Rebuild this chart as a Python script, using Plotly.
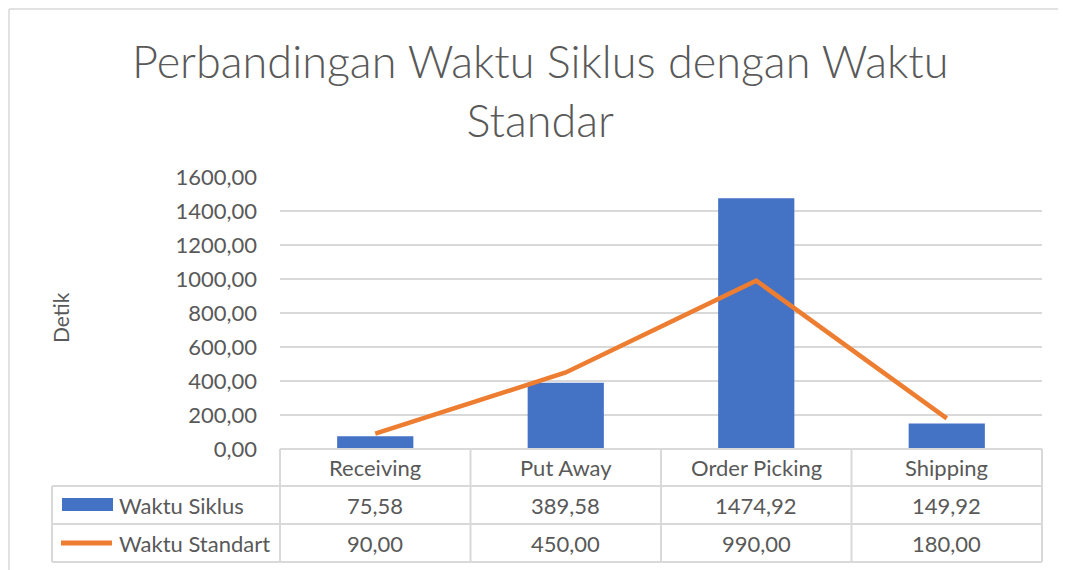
import plotly.graph_objects as go

categories = ["Receiving", "Put Away", "Order Picking", "Shipping"]
waktu_siklus = [75.58, 389.58, 1474.92, 149.92]
waktu_standart = [90.00, 450.00, 990.00, 180.00]
series_names = ["Waktu Siklus", "Waktu Standart"]
y_ticks = [0, 200, 400, 600, 800, 1000, 1200, 1400, 1600]
title_text = "Perbandingan Waktu Siklus dengan Waktu<br>Standar"
y_title = "Detik"

BLUE = "#4472C4"
ORANGE = "#ED7D31"
TXT = "#595959"
GRID = "#D9D9D9"
FONT = "Lato"

W, H = 1066, 570
OFF = 8  # page body margin offset
# desired plot area in page pixels
PL, PR, PT, PB = 280, 1042, 177, 449
L, T = PL - OFF, PT - OFF
R, B = W - (PR - OFF), H - (PB - OFF)
PW, PH = PR - PL, PB - PT


def px(x):
    return (x - PL) / PW


def py(y):
    return (PB - y) / PH


def fmt(v):
    return f"{v:.2f}".replace(".", ",")


fig = go.Figure()
fig.add_trace(go.Bar(x=categories, y=waktu_siklus, name=series_names[0],
                     marker=dict(color=BLUE, line=dict(width=0))))
fig.add_trace(go.Scatter(x=categories, y=waktu_standart, name=series_names[1],
                         mode="lines", line=dict(color=ORANGE, width=4.5)))

shapes = []
annotations = []

# chart frame (as close to the page corner as the figure allows)
FR = OFF + 1
shapes.append(dict(type="line", xref="paper", yref="paper", x0=px(FR), x1=px(1080), y0=py(FR), y1=py(FR),
                   line=dict(color=GRID, width=1.5)))
shapes.append(dict(type="line", xref="paper", yref="paper", x0=px(FR), x1=px(FR), y0=py(FR), y1=py(590),
                   line=dict(color=GRID, width=1.5)))

# data table
col_edges = [PL + i * PW / len(categories) for i in range(len(categories) + 1)]
row_edges = [449, 486, 524, 562]
tl = dict(color=GRID, width=2)
for i, yy in enumerate(row_edges):
    x0 = PL if i == 0 else 52
    shapes.append(dict(type="line", xref="paper", yref="paper", x0=px(x0), x1=px(col_edges[-1]),
                       y0=py(yy), y1=py(yy), line=tl))
shapes.append(dict(type="line", xref="paper", yref="paper", x0=px(52), x1=px(52),
                   y0=py(row_edges[1]), y1=py(row_edges[-1]), line=tl))
for xx in col_edges:
    shapes.append(dict(type="line", xref="paper", yref="paper", x0=px(xx), x1=px(xx),
                       y0=py(row_edges[0]), y1=py(row_edges[-1]), line=tl))

cell_font = dict(size=22, color=TXT, family=FONT)
row_centers = [(row_edges[i] + row_edges[i + 1]) / 2 for i in range(3)]
for i, c in enumerate(categories):
    xc = (col_edges[i] + col_edges[i + 1]) / 2
    for text, rc in ((c, row_centers[0]), (fmt(waktu_siklus[i]), row_centers[1]),
                     (fmt(waktu_standart[i]), row_centers[2])):
        annotations.append(dict(x=px(xc), y=py(rc), text=text, showarrow=False,
                                xanchor="center", yanchor="middle",
                                xref="paper", yref="paper", font=cell_font))

# legend keys in table
shapes.append(dict(type="rect", xref="paper", yref="paper", x0=px(62), x1=px(113),
                   y0=py(511), y1=py(498), fillcolor=BLUE, line=dict(width=0)))
shapes.append(dict(type="line", xref="paper", yref="paper", x0=px(61), x1=px(112),
                   y0=py(543), y1=py(543), line=dict(color=ORANGE, width=5)))
for name, rc in zip(series_names, row_centers[1:]):
    annotations.append(dict(x=px(117), y=py(rc), text=name, showarrow=False,
                            xanchor="left", yanchor="middle",
                            xref="paper", yref="paper", font=cell_font))

# y axis title
annotations.append(dict(x=px(60), y=py(317), text=y_title, showarrow=False, textangle=-90,
                        xanchor="center", yanchor="middle",
                        xref="paper", yref="paper", font=dict(size=21, color=TXT, family=FONT)))

# title
annotations.append(dict(x=px(540), y=py(90), text=title_text, showarrow=False,
                        xanchor="center", yanchor="middle",
                        xref="paper", yref="paper", font=dict(size=45, color=TXT, family=FONT, weight=300)))

fig.update_layout(
    width=W, height=H,
    margin=dict(l=L, r=R, t=T, b=B, autoexpand=False),
    paper_bgcolor="white", plot_bgcolor="white",
    showlegend=False,
    bargap=0.6,
    shapes=shapes, annotations=annotations,
    xaxis=dict(showticklabels=False, showgrid=False, zeroline=False, showline=False, ticks=""),
    yaxis=dict(range=[0, 1600], tickvals=y_ticks, ticktext=[fmt(v) for v in y_ticks],
               showgrid=True, gridcolor=GRID, gridwidth=2, zeroline=False, showline=False,
               tickfont=dict(size=22, color=TXT, family=FONT), ticklabelstandoff=22),
)

fig.write_html("out.html")
